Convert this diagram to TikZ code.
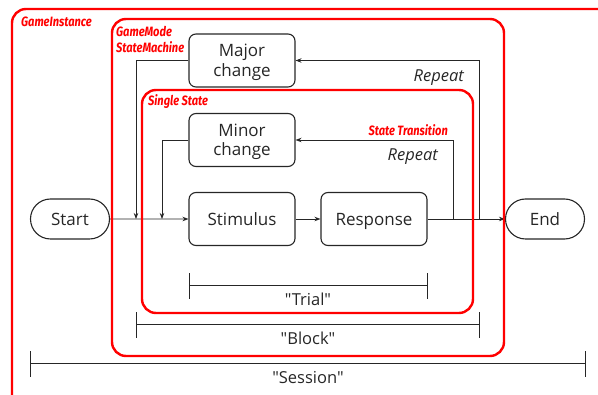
\documentclass[tikz,border=0pt]{standalone}
\usepackage{fontspec}
\setmainfont{Open Sans}[Ligatures=TeXOff]
\newfontfamily\redfont[FakeStretch=0.82]{Fira Sans}
\usetikzlibrary{arrows.meta,shapes.misc}
\begin{document}
\begin{tikzpicture}[x=1pt,y=-1pt,
  blk/.style={draw=black!85,line width=1.1pt,rounded corners=7pt,minimum width=106pt,minimum height=53pt,inner sep=0pt,align=center,font=\fontsize{17}{19.5}\selectfont,text=black!85,text depth=0pt},
  term/.style={draw=black!85,line width=1.1pt,rounded rectangle,minimum width=79pt,minimum height=40pt,inner sep=0pt,font=\fontsize{17}{19.5}\selectfont,text=black!85,text depth=0pt},
  arr/.style={draw=black!85,line width=0.8pt,-{Stealth[length=6pt,width=4.5pt]}},
  brk/.style={draw=black!85,line width=1pt},
  redbox/.style={draw=red,line width=2.4pt,rounded corners=14pt},
  redlab/.style={text=red,font=\redfont\bfseries\itshape\fontsize{13.5}{15}\selectfont,inner sep=0pt,anchor=base west},
  rep/.style={font=\itshape\fontsize{16.5}{19}\selectfont,text=black!85,inner sep=0pt,anchor=base east},
  blab/.style={font=\fontsize{16.5}{19}\selectfont,text=black!85,inner sep=0pt}]
\useasboundingbox (0,0) rectangle (598,395);
\clip (0,0) rectangle (598,395);
% nodes
\node[term] (start) at (70,219) {Start};
\node[term] (end) at (545,219) {End};
\node[blk] (stim) at (242,219) {Stimulus};
\node[blk] (resp) at (374,219) {Response};
\node[blk] (minor) at (242,140) {Minor\\change};
\node[blk] (major) at (242,60.5) {Major\\change};
% coordinates
\coordinate (mr) at (453,219);
\coordinate (Mr) at (479,219);
\coordinate (ml) at (162,219);
\coordinate (Ml) at (136,219);
% connectors
\draw[arr] (start) -- (stim);
\draw[arr] (stim) -- (resp);
\draw[arr] (resp) -- (end);
\draw[arr] (mr) |- (minor.east);
\draw[arr] (Mr) |- (major.east);
\draw[arr] (minor.west) -| (ml);
\draw[arr] (major.west) -| (Ml);
% labels
\node[rep] (rep1) at (464,82) {Repeat};
\node[rep] (rep2) at (438,161) {Repeat};
% brackets
\coordinate (t1) at (189,286); \coordinate (t2) at (427,286);
\draw[brk] (t1) -- (t2);
\draw[brk] ([yshift=-13pt]t1) -- ([yshift=13pt]t1);
\draw[brk] ([yshift=-13pt]t2) -- ([yshift=13pt]t2);
\node[blab] (trial) at (308,299) {"Trial"};
\coordinate (b1) at (136,325); \coordinate (b2) at (479,325);
\draw[brk] (b1) -- (b2);
\draw[brk] ([yshift=-13pt]b1) -- ([yshift=13pt]b1);
\draw[brk] ([yshift=-13pt]b2) -- ([yshift=13pt]b2);
\node[blab] (block) at (308,338) {"Block"};
\coordinate (s1) at (30,364); \coordinate (s2) at (585,364);
\draw[brk] (s1) -- (s2);
\draw[brk] ([yshift=-13pt]s1) -- ([yshift=13pt]s1);
\draw[brk] ([yshift=-13pt]s2) -- ([yshift=13pt]s2);
\node[blab] (session) at (308,378) {"Session"};
% red containers
\draw[redbox] (12,9) rectangle (640,450);
\draw[redbox] (112,19) rectangle (504,356);
\draw[redbox] (142,90) rectangle (473,313);
\node[redlab] (gi) at (21,27) {GameInstance};
\node[redlab] (gm1) at (116,37) {GameMode};
\node[redlab] (gm2) at (116,53) {StateMachine};
\node[redlab] (ss) at (148,106) {Single State};
\node[redlab,anchor=base east] (st) at (448,136) {State Transition};
\end{tikzpicture}
\end{document}
